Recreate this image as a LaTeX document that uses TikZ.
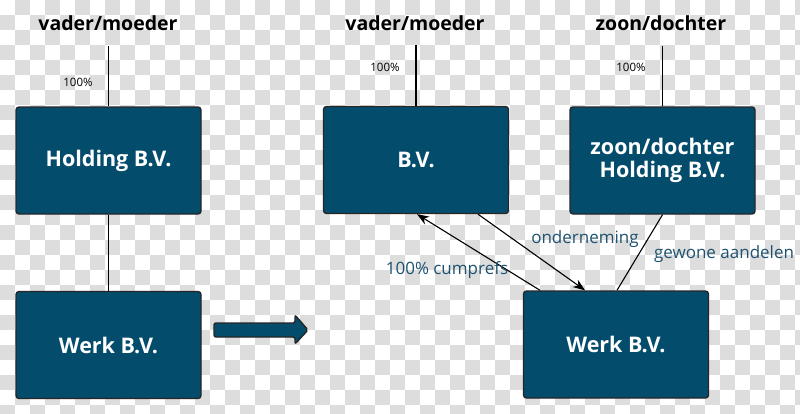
\documentclass[tikz,border=0pt]{standalone}
\usepackage{fontspec}
\setmainfont{Open Sans}
\usetikzlibrary{arrows.meta}
\definecolor{boxblue}{RGB}{4,76,108}
\definecolor{labelblue}{RGB}{30,82,112}
\definecolor{checker}{RGB}{221,221,221}
\tikzset{
  entity/.style={draw=black!85, line width=1.4pt, fill=boxblue, rounded corners=3pt,
    text=white, font=\bfseries\fontsize{21.5}{23}\selectfont, align=center,
    minimum width=185pt, minimum height=107pt, inner sep=0pt},
  header/.style={font=\bfseries\fontsize{19.5}{22}\selectfont, text=black, inner sep=0pt},
  pct/.style={font=\fontsize{11.5}{13}\selectfont, text=black, inner sep=0pt},
  rel/.style={font=\fontsize{17}{20}\selectfont, text=labelblue, inner sep=0pt},
  link/.style={line width=1.1pt, draw=black},
  tip/.style={-{Stealth[length=12pt,width=9pt]}}
}
\begin{document}
\begin{tikzpicture}[x=1pt,y=-1pt]
\useasboundingbox (0,0) rectangle (800,413);
% checkerboard background
\begin{scope}
\clip (0,0) rectangle (800,413);
\foreach \j in {0,...,27}{
  \pgfmathtruncatemacro\s{mod(\j+1,2)}
  \pgfmathtruncatemacro\t{\s+2}
  \foreach \i in {\s,\t,...,53}{
    \fill[checker] (\i*15,\j*15) rectangle ++(15,15);
  }
}
\end{scope}

% headers
\node[header] (h1) at (108,23) {vader/moeder};
\node[header] (h2) at (415,23) {vader/moeder};
\node[header] (h3) at (661,23) {zoon/dochter};

% boxes
\node[entity] (holding) at (108.5,160.5) {Holding B.V.};
\node[entity] (werk1) at (108.5,345) {Werk B.V.};
\node[entity] (bv) at (416,160) {B.V.};
\node[entity] (zh) at (662.5,160.5) {zoon/dochter\\Holding B.V.};
\node[entity] (werk2) at (616,344.5) {Werk B.V.};

% percentages
\node[pct] (p1) at (78,82) {100\%};
\node[pct] (p2) at (385,67) {100\%};
\node[pct] (p3) at (631,67) {100\%};

% ownership lines
\draw[link] (holding.north) -- (holding.north |- 0,46);
\draw[link] (bv.north) -- (bv.north |- 0,45);
\draw[link] (zh.north) -- (zh.north |- 0,46);
\draw[link] (holding.south) -- (werk1.north);

% relations
\coordinate (a1s) at ([xshift=-76pt]werk2.north);
\coordinate (a1e) at ([xshift=1pt]bv.south);
\coordinate (a2s) at ([xshift=62pt]bv.south);
\coordinate (a2e) at ([xshift=-31pt]werk2.north);
\draw[link,tip] (a1s) -- (a1e);
\draw[link,tip] (a2s) -- (a2e);
\draw[link] (zh.south) -- ([xshift=1pt]werk2.north);

\node[rel] (l1) at (585,239) {onderneming};
\node[rel] (l2) at (447,270) {100\% cumprefs};
\node[rel] (l3) at (724,254) {gewone aandelen};

% transition arrow
\draw[draw=black!85, line width=1.4pt, fill=boxblue, rounded corners=2pt]
  (214,323) -- (295,323) -- (295,315) -- (308,330) -- (295,344) -- (295,337) -- (214,337) -- cycle;
\end{tikzpicture}
\end{document}
